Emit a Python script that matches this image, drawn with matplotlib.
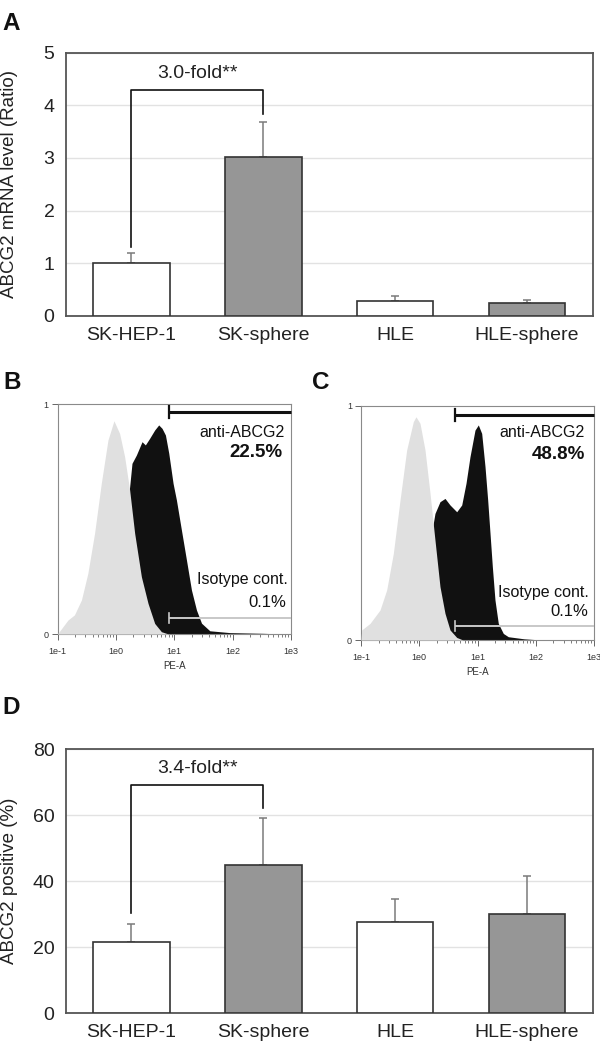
import numpy as np
import matplotlib
matplotlib.use("Agg")
import matplotlib.pyplot as plt

plt.rcParams['font.family'] = ['Liberation Sans', 'DejaVu Sans']

# ---------------- data ----------------
categories = ["SK-HEP-1", "SK-sphere", "HLE", "HLE-sphere"]
bar_colors = ["#ffffff", "#969696", "#ffffff", "#969696"]

mrna_mean = [1.00, 3.02, 0.28, 0.235]
mrna_err = [0.20, 0.67, 0.10, 0.065]

pos_mean = [21.5, 44.9, 27.5, 30.1]
pos_err = [5.5, 14.3, 7.2, 11.5]

# Histogram B (log10 PE-A, normalised count)
b_iso_x = [-1.0, -0.82, -0.71, -0.59, -0.48, -0.365, -0.25, -0.136, -0.033,
           0.064, 0.15, 0.236, 0.322, 0.437, 0.551, 0.665, 0.78, 0.9]
b_iso_y = [0.0, 0.061, 0.083, 0.148, 0.264, 0.438, 0.655, 0.843, 0.927,
           0.872, 0.771, 0.626, 0.438, 0.249, 0.133, 0.046, 0.010, 0.0]
b_abc_x = [-0.3, -0.1, 0.0, 0.1, 0.18, 0.236, 0.276, 0.351, 0.448, 0.505, 0.579,
           0.665, 0.734, 0.791, 0.849, 0.906, 0.98, 1.037, 1.123, 1.209,
           1.295, 1.381, 1.467, 1.609, 1.953, 2.52, 2.86]
b_abc_y = [0.0, 0.05, 0.15, 0.35, 0.52, 0.640, 0.742, 0.778, 0.836, 0.822, 0.851,
           0.887, 0.909, 0.894, 0.865, 0.786, 0.655, 0.583, 0.452, 0.322,
           0.191, 0.104, 0.047, 0.014, 0.006, 0.003, 0.0]

# Histogram C
c_iso_x = [-1.0, -0.988, -0.845, -0.674, -0.559, -0.445, -0.33, -0.216, -0.102,
           -0.056, 0.013, 0.099, 0.185, 0.27, 0.356, 0.442, 0.528, 0.643, 0.75]
c_iso_y = [0.0, 0.043, 0.071, 0.128, 0.214, 0.370, 0.598, 0.812, 0.933,
           0.954, 0.926, 0.812, 0.627, 0.427, 0.228, 0.114, 0.043, 0.011, 0.0]
c_abc_x = [-0.1, 0.0, 0.1, 0.2, 0.225, 0.231, 0.27, 0.356, 0.442, 0.528, 0.643,
           0.729, 0.803, 0.871, 0.957, 1.014, 1.072, 1.129, 1.175, 1.215,
           1.255, 1.3, 1.357, 1.443, 1.529, 1.8, 2.1]
c_abc_y = [0.0, 0.02, 0.1, 0.3, 0.45, 0.484, 0.541, 0.591, 0.605, 0.577, 0.548,
           0.577, 0.670, 0.783, 0.897, 0.919, 0.883, 0.741, 0.598, 0.456,
           0.313, 0.171, 0.071, 0.028, 0.014, 0.005, 0.0]

b_gate_anti = 8.0
b_gate_iso = 8.0
c_gate_anti = 4.1
c_gate_iso = 4.1
b_labels = ["anti-ABCG2", "22.5%", "Isotype cont.", "0.1%"]
c_labels = ["anti-ABCG2", "48.8%", "Isotype cont.", "0.1%"]

# ---------------- figure ----------------
W, H = 600, 1042
fig = plt.figure(figsize=(W / 100, H / 100), dpi=100)


def px_axes(x0, y0, x1, y1):
    return fig.add_axes([x0 / W, 1 - y1 / H, (x1 - x0) / W, (y1 - y0) / H])


def bar_panel(ax, means, errs, ymax, yticks, ylabel, bracket, fold_text):
    x = np.arange(len(categories))
    ax.bar(x, means, width=0.58, color=bar_colors, edgecolor="#333333",
           linewidth=1.2, zorder=3)
    ax.errorbar(x, means, yerr=[np.zeros(len(errs)), errs], fmt="none",
                ecolor="#7a7a7a", elinewidth=1.1, capsize=2.8, capthick=1.1,
                zorder=2)
    ax.set_xlim(-0.5, 3.5)
    ax.set_ylim(0, ymax)
    ax.set_yticks(yticks)
    ax.set_xticks(x)
    ax.set_xticklabels(categories, fontsize=14)
    ax.tick_params(axis="both", length=0, labelsize=14, pad=8,
                   colors="#222222")
    ax.yaxis.grid(True, color="#e2e2e2", linewidth=1.0, zorder=0)
    ax.set_axisbelow(True)
    for s in ax.spines.values():
        s.set_color("#555555")
        s.set_linewidth(1.3)
    ax.set_ylabel(ylabel, fontsize=13.5, color="#222222", va="center")
    ax.yaxis.set_label_coords(-0.106, 0.5)
    yl, ytop, yr = bracket
    ax.plot([0, 0, 1, 1], [yl, ytop, ytop, yr], color="#111111", lw=1.2,
            zorder=4)
    ax.text(0.5, ytop + (ymax * 0.06), fold_text, ha="center", va="center",
            fontsize=14, color="#222222")


axA = px_axes(65.5, 52.7, 593, 315.7)
bar_panel(axA, mrna_mean, mrna_err, 5, [0, 1, 2, 3, 4, 5],
          "ABCG2 mRNA level (Ratio)", (1.3, 4.3, 3.83), "3.0-fold**")

axD = px_axes(65.5, 749, 593, 1013.3)
bar_panel(axD, pos_mean, pos_err, 80, [0, 20, 40, 60, 80],
          "ABCG2 positive (%)", (30.3, 69.2, 62.0), "3.4-fold**")


def hist_panel(ax, iso_x, iso_y, abc_x, abc_y, gate_anti, gate_iso,
               anti_y, iso_gy, labels, text_pos):
    ax.set_xscale("log")
    ax.fill_between(10 ** np.array(abc_x), abc_y, 0, color="#111111",
                    linewidth=0, zorder=2)
    ax.fill_between(10 ** np.array(iso_x), iso_y, 0, color="#e0e0e0",
                    linewidth=0, zorder=3)
    ax.set_xlim(0.1, 1000)
    ax.set_ylim(0, 1)
    # gates
    ax.plot([gate_anti, 1000], [anti_y, anti_y], color="#111111", lw=2.2,
            zorder=5, solid_capstyle="butt", clip_on=False)
    ax.plot([gate_anti, gate_anti], [anti_y - 0.025, anti_y + 0.025],
            color="#111111", lw=1.6, zorder=5)
    ax.plot([gate_iso, 1000], [iso_gy, iso_gy], color="#c8c8c8", lw=1.4,
            zorder=5, solid_capstyle="butt")
    ax.plot([gate_iso, gate_iso], [iso_gy - 0.022, iso_gy + 0.022],
            color="#c8c8c8", lw=1.2, zorder=5)
    (xa, ya), (xb, yb), (xc, yc), (xd, yd) = text_pos
    ax.text(xa, ya, labels[0], transform=ax.transAxes, ha="right",
            va="center", fontsize=11.5, color="#111111", zorder=6)
    ax.text(xb, yb, labels[1], transform=ax.transAxes, ha="right",
            va="center", fontsize=13.5, fontweight="bold", color="#111111",
            zorder=6)
    ax.text(xc, yc, labels[2], transform=ax.transAxes, ha="right",
            va="center", fontsize=11.5, color="#111111", zorder=6)
    ax.text(xd, yd, labels[3], transform=ax.transAxes, ha="right",
            va="center", fontsize=12, color="#111111", zorder=6)
    ax.set_yticks([0, 1])
    ax.set_yticklabels(["0", "1"])
    ax.set_xticks([0.1, 1, 10, 100, 1000])
    ax.set_xticklabels(["1e-1", "1e0", "1e1", "1e2", "1e3"])
    ax.tick_params(axis="both", which="major", length=4, width=0.7,
                   labelsize=6.5, color="#666666", labelcolor="#333333",
                   pad=2.5)
    ax.tick_params(axis="x", which="major", pad=5)
    ax.tick_params(axis="x", which="minor", length=2.3, width=0.6,
                   color="#666666")
    ax.set_xlabel("PE-A", fontsize=7, color="#333333", labelpad=4)
    for s in ax.spines.values():
        s.set_color("#8a8a8a")
        s.set_linewidth(0.8)


axB = px_axes(57.5, 404, 291, 634)
hist_panel(axB, b_iso_x, b_iso_y, b_abc_x, b_abc_y, b_gate_anti, b_gate_iso,
           0.965, 0.070, b_labels,
           [(0.974, 0.878), (0.963, 0.791), (0.988, 0.235), (0.981, 0.139)])

axC = px_axes(361, 406, 594, 640)
hist_panel(axC, c_iso_x, c_iso_y, c_abc_x, c_abc_y, c_gate_anti, c_gate_iso,
           0.962, 0.060, c_labels,
           [(0.961, 0.885), (0.961, 0.791), (0.976, 0.205), (0.975, 0.120)])

# panel letters
for letter, x, y in [("A", 2, 30), ("B", 3, 389), ("C", 312, 389),
                     ("D", 2, 714)]:
    fig.text(x / W, 1 - y / H, letter, fontsize=17.5, fontweight="bold",
             ha="left", va="baseline", color="#111111")

fig.savefig("out.png", dpi=100, facecolor="white")
